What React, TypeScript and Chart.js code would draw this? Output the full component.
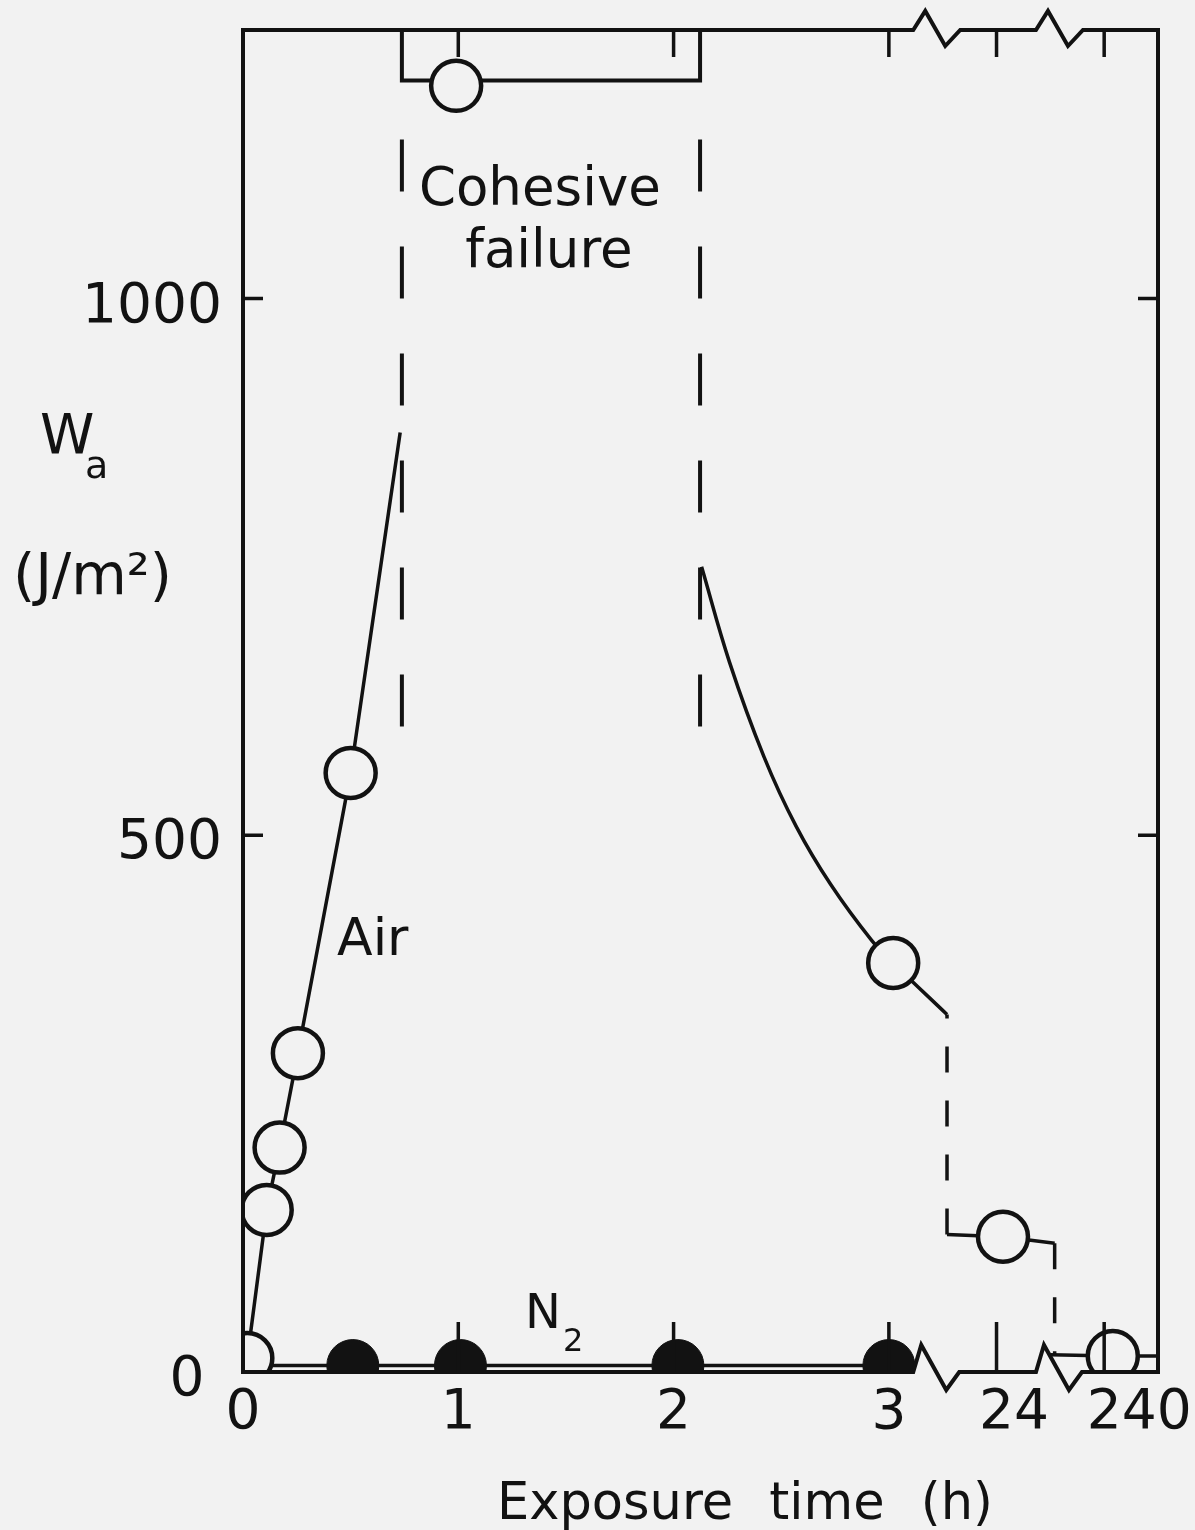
import React, { useEffect, useRef } from 'react';
import { Chart, registerables } from 'chart.js';

Chart.register(...registerables);

// ---------------- data ----------------
// Air: open circles (exposure time axis: 0,1,2,3 h, 24 h drawn at 3.5, 240 h drawn at 4.0)
const airX = [0.02, 0.11, 0.17, 0.255, 0.5, 0.99, 3.02, 3.53, 4.04];
const airY = [13, 151, 209, 297, 558, 1198, 381, 126, 15];

// Air: rising line up to the cohesive failure region
const airRiseX = [0.02, 0.11, 0.17, 0.255, 0.5, 0.73];
const airRiseY = [13, 151, 209, 297, 558, 875];

// Air: decaying curve after the cohesive failure region
const airDecayX = [2.13, 2.26, 2.42, 2.57, 2.73, 2.92, 3.02, 3.27];
const airDecayY = [750, 661, 573, 508, 454, 402, 381, 333];

// Air: dashed drop to 24 h, plateau, dashed drop to 240 h, tail
const airDrop1X = [3.27, 3.27];
const airDrop1Y = [128, 333];
const airPlateauX = [3.27, 3.53, 3.77];
const airPlateauY = [128, 126, 120];
const airDrop2X = [3.77, 3.77];
const airDrop2Y = [120, 16];
const airTailX = [3.75, 4.04, 4.25];
const airTailY = [16, 15, 15];

// N2: filled circles on a line near zero
const n2X = [0, 0.51, 1.01, 2.02, 3.0];
const n2Y = [6, 6, 6, 6, 6];

// Cohesive failure region
const cohesiveX = [0.738, 2.123];
const cohesiveBoxY = [1250, 1203];
const cohesiveDashY = [1148, 601];

// Axes
const xTickValues = [0, 1, 2, 3, 3.5, 4];
const xTickLabels = ['0', '1', '2', '3', '24', '240'];
const yTickValues = [0, 500, 1000];
const yTickLabels = ['0', '500', '1000'];
const xBreaks = [3.22, 3.79];
const X_MIN = 0;
const X_MAX = 4.25;
const Y_MIN = 0;
const Y_MAX = 1250;

// ---------------- style ----------------
const INK = '#121212';
const BG = '#f2f2f2';
const FONT = '"DejaVu Sans", sans-serif';
const NBSP = '\u00a0';
const xLabelNudge = [0, 0, 0, 0, 2, 4];
const yLabelNudge = [1, 0, 0];

const pts = (xs: number[], ys: number[]) => xs.map((x, i) => ({ x, y: ys[i] }));

const lineBase = {
  showLine: true,
  pointRadius: 0,
  pointHoverRadius: 0,
  borderColor: INK,
  borderWidth: 3.5,
  fill: false,
  order: 2,
};

const framePlugin = {
  id: 'frameAndNotes',
  afterDatasetsDraw(chart: any) {
    const { ctx, chartArea, scales } = chart;
    const { left: L, right: R, top: T, bottom: B } = chartArea;
    const x = scales.x;
    const y = scales.y;
    ctx.save();
    ctx.strokeStyle = INK;
    ctx.lineWidth = 4;
    ctx.lineJoin = 'miter';
    ctx.lineCap = 'butt';
    const [b1, b2] = xBreaks.map((v) => x.getPixelForValue(v));

    // frame with axis breaks
    ctx.beginPath();
    ctx.moveTo(L, B + 2);
    ctx.lineTo(L, T);
    for (const c of [b1, b2]) {
      ctx.lineTo(c - 23, T);
      ctx.lineTo(c - 11, T - 19);
      ctx.lineTo(c + 9, T + 16);
      ctx.lineTo(c + 24, T);
    }
    ctx.lineTo(R, T);
    ctx.lineTo(R, B);
    for (const c of [b2, b1]) {
      ctx.lineTo(c + 23, B);
      ctx.lineTo(c + 10, B + 18);
      ctx.lineTo(c - 15, B - 27);
      ctx.lineTo(c - 23, B);
    }
    ctx.lineTo(L - 2, B);
    ctx.stroke();

    // tick marks (inside)
    ctx.lineWidth = 3.5;
    ctx.beginPath();
    for (const t of y.ticks) {
      if (t.value <= Y_MIN) continue;
      const py = y.getPixelForValue(t.value);
      ctx.moveTo(L, py);
      ctx.lineTo(L + 20, py);
      ctx.moveTo(R - 20, py);
      ctx.lineTo(R, py);
    }
    for (const t of x.ticks) {
      if (t.value <= X_MIN) continue;
      const px = x.getPixelForValue(t.value);
      ctx.moveTo(px, B);
      ctx.lineTo(px, B - 50);
      ctx.moveTo(px, T);
      ctx.lineTo(px, T + 27);
    }
    ctx.stroke();

    // in-plot labels (anchored in data coordinates)
    ctx.fillStyle = INK;
    ctx.textBaseline = 'alphabetic';
    ctx.font = `53px ${FONT}`;
    ctx.textAlign = 'center';
    ctx.fillText('Cohesive', x.getPixelForValue(1.379), y.getPixelForValue(1087));
    ctx.fillText('failure', x.getPixelForValue(1.421), y.getPixelForValue(1029));
    ctx.textAlign = 'left';
    ctx.font = `52px ${FONT}`;
    ctx.fillText('Air', x.getPixelForValue(0.437), y.getPixelForValue(388));
    ctx.font = `48px ${FONT}`;
    ctx.fillText('N', x.getPixelForValue(1.31), y.getPixelForValue(41));
    ctx.font = `32px ${FONT}`;
    ctx.fillText('2', x.getPixelForValue(1.486), y.getPixelForValue(20));

    // axis titles
    ctx.font = `55px ${FONT}`;
    ctx.fillText('W', L - 203, 453);
    ctx.font = `38px ${FONT}`;
    ctx.fillText('a', L - 158, 478);
    ctx.font = `57px ${FONT}`;
    ctx.fillText('(J/m\u00b2)', L - 230, 594);
    ctx.font = `51px ${FONT}`;
    (ctx as any).wordSpacing = '20px';
    ctx.fillText('Exposure time (h)', L + 254, B + 147);
    (ctx as any).wordSpacing = '0px';
    ctx.restore();
  },
};

export default function App() {
  const ref = useRef<HTMLCanvasElement>(null);

  useEffect(() => {
    document.body.style.margin = '0';
    document.body.style.background = BG;
    const canvas = ref.current;
    if (!canvas) return;
    const chart = new Chart(canvas, {
      type: 'scatter',
      data: {
        datasets: [
          {
            label: 'Air',
            data: pts(airX, airY),
            showLine: false,
            pointRadius: 25,
            pointHoverRadius: 25,
            pointBorderWidth: 4.5,
            pointBorderColor: INK,
            pointBackgroundColor: BG,
            clip: 0,
            order: 0,
          } as any,
          {
            label: 'N2',
            data: pts(n2X, n2Y),
            showLine: true,
            borderColor: INK,
            borderWidth: 3.5,
            pointRadius: n2X.map((_, i) => (i === 0 ? 0 : 26)),
            pointHoverRadius: 0,
            pointBackgroundColor: INK,
            pointBorderColor: INK,
            pointBorderWidth: 1,
            clip: 0,
            order: 1,
          } as any,
          { ...lineBase, label: 'Air rise', data: pts(airRiseX, airRiseY) } as any,
          {
            ...lineBase,
            label: 'Air decay',
            data: pts(airDecayX, airDecayY),
            tension: 0.4,
          } as any,
          { ...lineBase, label: 'Air drop 24 h', data: pts(airDrop1X, airDrop1Y), borderDash: [26, 28] } as any,
          { ...lineBase, label: 'Air 24 h', data: pts(airPlateauX, airPlateauY) } as any,
          { ...lineBase, label: 'Air drop 240 h', data: pts(airDrop2X, airDrop2Y), borderDash: [26, 28] } as any,
          { ...lineBase, label: 'Air 240 h', data: pts(airTailX, airTailY) } as any,
          {
            ...lineBase,
            label: 'Cohesive box',
            borderWidth: 4,
            data: [
              { x: cohesiveX[0], y: cohesiveBoxY[0] },
              { x: cohesiveX[0], y: cohesiveBoxY[1] },
              { x: cohesiveX[1], y: cohesiveBoxY[1] },
              { x: cohesiveX[1], y: cohesiveBoxY[0] },
            ],
          } as any,
          {
            ...lineBase,
            label: 'Cohesive left',
            borderWidth: 4,
            borderDash: [52, 55],
            data: [
              { x: cohesiveX[0], y: cohesiveDashY[0] },
              { x: cohesiveX[0], y: cohesiveDashY[1] },
            ],
          } as any,
          {
            ...lineBase,
            label: 'Cohesive right',
            borderWidth: 4,
            borderDash: [52, 55],
            data: [
              { x: cohesiveX[1], y: cohesiveDashY[0] },
              { x: cohesiveX[1], y: cohesiveDashY[1] },
            ],
          } as any,
        ],
      },
      options: {
        animation: false,
        responsive: true,
        maintainAspectRatio: false,
        events: [],
        layout: { padding: { top: 30, right: 37, bottom: 0, left: 0 } },
        plugins: { legend: { display: false }, tooltip: { enabled: false } },
        scales: {
          x: {
            type: 'linear',
            min: X_MIN,
            max: X_MAX,
            grid: { display: false, drawTicks: false },
            border: { display: false },
            afterBuildTicks: (s: any) => {
              s.ticks = xTickValues.map((v) => ({ value: v }));
            },
            afterFit: (s: any) => {
              s.height = 158;
              s.paddingLeft = 0;
              s.paddingRight = 0;
            },
            ticks: {
              autoSkip: false,
              maxRotation: 0,
              minRotation: 0,
              padding: 9,
              color: INK,
              font: { family: FONT, size: 55 },
              callback: (v: any) => {
                const i = xTickValues.indexOf(Number(v));
                return i >= 0 ? NBSP.repeat(xLabelNudge[i]) + xTickLabels[i] : '';
              },
            },
          },
          y: {
            type: 'linear',
            min: Y_MIN,
            max: Y_MAX,
            grid: { display: false, drawTicks: false },
            border: { display: false },
            afterBuildTicks: (s: any) => {
              s.ticks = yTickValues.map((v) => ({ value: v }));
            },
            afterFit: (s: any) => {
              s.width = 243;
              s.paddingTop = 0;
              s.paddingBottom = 0;
            },
            ticks: {
              autoSkip: false,
              padding: 21,
              labelOffset: 9,
              color: INK,
              font: { family: FONT, size: 55 },
              callback: (v: any) => {
                const i = yTickValues.indexOf(Number(v));
                return i >= 0 ? yTickLabels[i] + NBSP.repeat(yLabelNudge[i]) : '';
              },
            },
          },
        },
      },
      plugins: [framePlugin],
    } as any);
    return () => chart.destroy();
  }, []);

  return (
    <div style={{ position: 'absolute', left: 0, top: 0, width: 1195, height: 1530, background: BG }}>
      <canvas ref={ref} />
    </div>
  );
}
